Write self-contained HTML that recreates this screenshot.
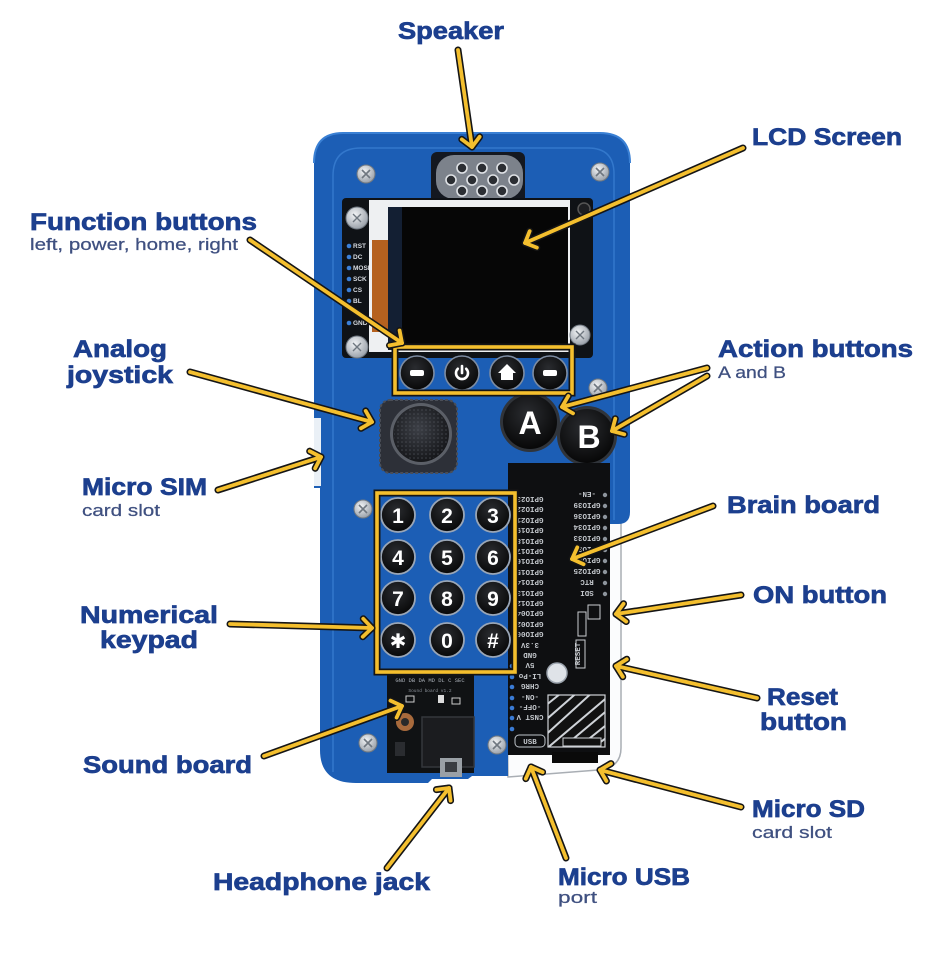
<!DOCTYPE html>
<html><head><meta charset="utf-8"><style>
html,body{margin:0;padding:0;background:#fff;width:931px;height:974px;overflow:hidden}
svg{display:block}
.L{font-family:"Liberation Sans",sans-serif;font-weight:700;font-size:24px;fill:#1c3f8e;stroke:#1c3f8e;stroke-width:0.7px}
.S{font-family:"Liberation Sans",sans-serif;font-weight:400;font-size:17px;fill:#3f5080;stroke:#3f5080;stroke-width:0.25px}
.g{font-family:"Liberation Mono",monospace;font-weight:700;font-size:7.5px;fill:#c3c7cc}
.k{font-family:"Liberation Sans","DejaVu Sans",sans-serif;font-weight:700;font-size:21px;fill:#fff;text-anchor:middle}
</style></head><body>
<svg width="931" height="974" viewBox="0 0 931 974" xmlns="http://www.w3.org/2000/svg">
<defs>
<radialGradient id="sc" cx="40%" cy="35%" r="70%"><stop offset="0" stop-color="#f2f4f6"/><stop offset="1" stop-color="#959ca5"/></radialGradient>
<radialGradient id="kn" cx="45%" cy="40%" r="65%"><stop offset="0" stop-color="#3c3f46"/><stop offset="1" stop-color="#131417"/></radialGradient>
<radialGradient id="bt" cx="45%" cy="35%" r="70%"><stop offset="0" stop-color="#2a2c30"/><stop offset="1" stop-color="#050505"/></radialGradient>
<pattern id="dots" width="4" height="4" patternUnits="userSpaceOnUse"><circle cx="2" cy="2" r="0.8" fill="#5a5e66"/></pattern>
<clipPath id="sdc"><rect x="548" y="695" width="57" height="52"/></clipPath>
<marker id="mk" viewBox="-16 -16 32 32" markerWidth="32" markerHeight="32" refX="0" refY="0" orient="auto" markerUnits="userSpaceOnUse"><path d="M-9,-9 L0,0 L-9,9" fill="none" stroke="#151515" stroke-width="7" stroke-linecap="round" stroke-linejoin="round"/></marker>
<marker id="my" viewBox="-16 -16 32 32" markerWidth="32" markerHeight="32" refX="0" refY="0" orient="auto" markerUnits="userSpaceOnUse"><path d="M-9,-9 L0,0 L-9,9" fill="none" stroke="#f4bf2e" stroke-width="3.8" stroke-linecap="round" stroke-linejoin="round"/></marker>
</defs>
<rect width="931" height="974" fill="#fff"/>

<!-- acrylic -->
<path d="M505,520 H621 V748 Q621,768 598,770 L508,777 Z" fill="#fbfcfd" stroke="#a9aeb4" stroke-width="1.5"/>
<!-- body -->
<path d="M343,133 H600 Q630,133 630,163 V512 Q630,524 618,524 H508 V776 H472 L468,779 H432 L428,783 H356 Q320,783 320,750 V488 H314 V163 Q314,133 343,133 Z" fill="#1c5eb5"/>
<path d="M314,163 Q314,133 343,133 H600 Q630,133 630,163" fill="none" stroke="#3a80d4" stroke-width="2"/>
<rect x="314" y="418" width="7" height="68" fill="#eaf0f6"/>
<path d="M333,772 V176 Q333,148 361,148 H588 Q614,148 614,174 V520" fill="none" stroke="#3d83d6" stroke-width="1.5" opacity=".7"/>

<!-- speaker -->
<rect x="431" y="152" width="94" height="52" rx="6" fill="#141820"/>
<rect x="436" y="155" width="87" height="44" rx="18" fill="#7c828b"/>
<g fill="#2b2e33" stroke="#dfe2e6" stroke-width="1.6">
<circle cx="462" cy="168" r="5"/><circle cx="482" cy="168" r="5"/><circle cx="502" cy="168" r="5"/>
<circle cx="451" cy="180" r="5"/><circle cx="472" cy="180" r="5"/><circle cx="493" cy="180" r="5"/><circle cx="514" cy="180" r="5"/>
<circle cx="462" cy="191" r="5"/><circle cx="482" cy="191" r="5"/><circle cx="502" cy="191" r="5"/>
</g>

<!-- screen module -->
<rect x="342" y="198" width="251" height="160" rx="4" fill="#0f1216"/>
<rect x="369" y="200" width="201" height="152" fill="#eef0f2"/>
<rect x="372" y="240" width="16" height="92" fill="#b5611f"/>
<rect x="388" y="207" width="180" height="143" fill="#060606"/>
<rect x="388" y="207" width="14" height="143" fill="#16253c" opacity=".85"/>
<circle cx="584" cy="209" r="6" fill="#1e1f22" stroke="#555" stroke-width="1.5"/>
<g font-family="Liberation Sans,sans-serif" font-size="6.5" font-weight="700" fill="#d8dce2">
<text x="353" y="248">RST</text><text x="353" y="259">DC</text><text x="353" y="270">MOSI</text><text x="353" y="281">SCK</text><text x="353" y="292">CS</text><text x="353" y="303">BL</text><text x="353" y="325">GND</text>
</g>
<g fill="#3b7fd6"><circle cx="349" cy="246" r="2.3"/><circle cx="349" cy="257" r="2.3"/><circle cx="349" cy="268" r="2.3"/><circle cx="349" cy="279" r="2.3"/><circle cx="349" cy="290" r="2.3"/><circle cx="349" cy="301" r="2.3"/><circle cx="349" cy="323" r="2.3"/></g>

<!-- screws -->
<g stroke="#6f7780" stroke-width="1">
<g transform="translate(366,174)"><circle r="9" fill="url(#sc)"/><path d="M-4,-4L4,4M4,-4L-4,4" stroke-width="1.6"/></g>
<g transform="translate(600,172)"><circle r="9" fill="url(#sc)"/><path d="M-4,-4L4,4M4,-4L-4,4" stroke-width="1.6"/></g>
<g transform="translate(357,218)"><circle r="11" fill="url(#sc)"/><path d="M-4,-4L4,4M4,-4L-4,4" stroke-width="1.4"/></g>
<g transform="translate(357,347)"><circle r="11" fill="url(#sc)"/><path d="M-4,-4L4,4M4,-4L-4,4" stroke-width="1.4"/></g>
<g transform="translate(580,335)"><circle r="10" fill="url(#sc)"/><path d="M-4,-4L4,4M4,-4L-4,4" stroke-width="1.4"/></g>
<g transform="translate(598,388)"><circle r="9" fill="url(#sc)"/><path d="M-4,-4L4,4M4,-4L-4,4" stroke-width="1.6"/></g>
<g transform="translate(363,509)"><circle r="9" fill="url(#sc)"/><path d="M-4,-4L4,4M4,-4L-4,4" stroke-width="1.6"/></g>
<g transform="translate(368,743)"><circle r="9" fill="url(#sc)"/><path d="M-4,-4L4,4M4,-4L-4,4" stroke-width="1.6"/></g>
<g transform="translate(497,745)"><circle r="9" fill="url(#sc)"/><path d="M-4,-4L4,4M4,-4L-4,4" stroke-width="1.6"/></g>
</g>

<!-- function buttons -->
<g stroke="#7d8ca2" stroke-width="1.6" fill="url(#bt)">
<circle cx="417" cy="373" r="17"/><circle cx="462" cy="373" r="17"/><circle cx="507" cy="373" r="17"/><circle cx="550" cy="373" r="17"/>
</g>
<rect x="410" y="370" width="14" height="6" rx="2" fill="#fff"/>
<rect x="543" y="370" width="14" height="6" rx="2" fill="#fff"/>
<path d="M457.8,368.8 A6,6 0 1,0 466.2,368.8" fill="none" stroke="#fff" stroke-width="2.6" stroke-linecap="round"/>
<path d="M462,366 V373" stroke="#fff" stroke-width="2.6" stroke-linecap="round"/>
<path d="M507,364 L516,373 H513 V380 H501 V373 H498 Z" fill="#fff"/>

<!-- joystick -->
<rect x="380" y="400" width="77" height="73" rx="10" fill="#2d3038" stroke="#4a4e57" stroke-width="2" stroke-dasharray="3 2"/>
<circle cx="421" cy="434" r="31" fill="#5b5f67"/>
<circle cx="421" cy="434" r="28" fill="url(#kn)"/>
<circle cx="421" cy="434" r="27" fill="url(#dots)" opacity=".6"/>

<!-- A B -->
<circle cx="530" cy="422" r="30" fill="#30343a"/>
<circle cx="530" cy="422" r="27" fill="url(#bt)"/>
<text x="530" y="434" text-anchor="middle" font-family="Liberation Sans,sans-serif" font-weight="700" font-size="32" fill="#fff">A</text>
<circle cx="587" cy="436" r="30" fill="#30343a"/>
<circle cx="587" cy="436" r="27" fill="url(#bt)"/>
<text x="589" y="448" text-anchor="middle" font-family="Liberation Sans,sans-serif" font-weight="700" font-size="32" fill="#fff">B</text>

<!-- brain board -->
<rect x="508" y="463" width="102" height="292" fill="#0e0f11"/>
<g class="g" text-anchor="middle">
<text x="530" y="503" transform="rotate(180 530 500)">GPIO23</text>
<text x="530" y="513" transform="rotate(180 530 510)">GPIO22</text>
<text x="530" y="524" transform="rotate(180 530 521)">GPIO21</text>
<text x="530" y="534" transform="rotate(180 530 531)">GPIO19</text>
<text x="530" y="545" transform="rotate(180 530 542)">GPIO18</text>
<text x="530" y="555" transform="rotate(180 530 552)">GPIO17</text>
<text x="530" y="565" transform="rotate(180 530 562)">GPIO16</text>
<text x="530" y="576" transform="rotate(180 530 573)">GPIO15</text>
<text x="530" y="586" transform="rotate(180 530 583)">GPIO14</text>
<text x="530" y="597" transform="rotate(180 530 594)">GPIO13</text>
<text x="530" y="607" transform="rotate(180 530 604)">GPIO12</text>
<text x="530" y="617" transform="rotate(180 530 614)">GPIO04</text>
<text x="530" y="628" transform="rotate(180 530 625)">GPIO02</text>
<text x="530" y="638" transform="rotate(180 530 635)">GPIO00</text>
<text x="530" y="649" transform="rotate(180 530 646)">3.3V</text>
<text x="530" y="659" transform="rotate(180 530 656)">GND</text>
<text x="530" y="669" transform="rotate(180 530 666)">5V</text>
<text x="530" y="680" transform="rotate(180 530 677)">LI-Po</text>
<text x="530" y="690" transform="rotate(180 530 687)">CHRG</text>
<text x="530" y="701" transform="rotate(180 530 698)">-ON-</text>
<text x="530" y="711" transform="rotate(180 530 708)">-OFF-</text>
<text x="530" y="721" transform="rotate(180 530 718)">CNST V</text>
<text x="587" y="498" transform="rotate(180 587 495)">-EN-</text>
<text x="587" y="509" transform="rotate(180 587 506)">GPIO39</text>
<text x="587" y="520" transform="rotate(180 587 517)">GPIO36</text>
<text x="587" y="531" transform="rotate(180 587 528)">GPIO34</text>
<text x="587" y="542" transform="rotate(180 587 539)">GPIO33</text>
<text x="587" y="553" transform="rotate(180 587 550)">GPIO32</text>
<text x="587" y="564" transform="rotate(180 587 561)">GPIO26</text>
<text x="587" y="575" transform="rotate(180 587 572)">GPIO25</text>
<text x="587" y="586" transform="rotate(180 587 583)">RTC</text>
<text x="587" y="597" transform="rotate(180 587 594)">SDI</text>
</g>
<g fill="#8d949c"><circle cx="605" cy="495" r="2.2"/><circle cx="605" cy="506" r="2.2"/><circle cx="605" cy="517" r="2.2"/><circle cx="605" cy="528" r="2.2"/><circle cx="605" cy="539" r="2.2"/><circle cx="605" cy="550" r="2.2"/><circle cx="605" cy="561" r="2.2"/><circle cx="605" cy="572" r="2.2"/><circle cx="605" cy="583" r="2.2"/><circle cx="605" cy="594" r="2.2"/></g>
<g fill="#3a7bd5"><circle cx="512" cy="666" r="2.3"/><circle cx="512" cy="677" r="2.3"/><circle cx="512" cy="687" r="2.3"/><circle cx="512" cy="698" r="2.3"/><circle cx="512" cy="708" r="2.3"/><circle cx="512" cy="718" r="2.3"/><circle cx="512" cy="729" r="2.3"/></g>
<rect x="588" y="605" width="12" height="14" fill="none" stroke="#c9ccd1" stroke-width="1"/>
<rect x="578" y="612" width="8" height="24" fill="none" stroke="#c9ccd1" stroke-width="1"/>
<rect x="576" y="640" width="9" height="28" fill="none" stroke="#c9ccd1" stroke-width="1"/>
<text x="580" y="654" class="g" font-size="6" text-anchor="middle" transform="rotate(-90 580 654)">RESET</text>
<circle cx="557" cy="673" r="10" fill="#dfe3e8" stroke="#9aa2ac" stroke-width="1.5"/>
<rect x="548" y="695" width="57" height="52" fill="#111" stroke="#cfd3d8" stroke-width="1.2"/>
<g clip-path="url(#sdc)" stroke="#cfd3d8" stroke-width="2">
<path d="M540,710 L565,690 M540,725 L580,690 M540,740 L595,690 M545,750 L610,695 M560,750 L610,708 M575,750 L610,722 M590,750 L610,735"/>
</g>
<rect x="563" y="738" width="38" height="8" fill="#111" stroke="#cfd3d8" stroke-width="1"/>
<rect x="515" y="735" width="30" height="12" rx="4" fill="none" stroke="#bfc4ca" stroke-width="1"/>
<text x="530" y="744" class="g" font-size="6" text-anchor="middle">USB</text>
<rect x="552" y="752" width="46" height="11" fill="#0a0a0a"/>

<!-- sound board -->
<rect x="387" y="672" width="87" height="101" fill="#101214"/>
<text x="430" y="682" font-family="Liberation Mono,monospace" font-size="5.5" fill="#aab0b8" text-anchor="middle">GND DB DA MD DL C SEC</text>
<text x="430" y="692" font-family="Liberation Mono,monospace" font-size="4.5" fill="#8a9098" text-anchor="middle">Sound board v1.2</text>
<rect x="406" y="696" width="8" height="6" fill="none" stroke="#ccc" stroke-width="1"/>
<rect x="438" y="695" width="6" height="8" fill="#ddd"/>
<rect x="452" y="698" width="8" height="6" fill="none" stroke="#ccc" stroke-width="1"/>
<circle cx="405" cy="722" r="9" fill="#a86a3c"/><circle cx="405" cy="722" r="4" fill="#2a2a2a"/>
<rect x="395" y="742" width="10" height="14" fill="#2a2c30"/>
<rect x="422" y="717" width="52" height="50" fill="#1b1c1f" stroke="#34373c" stroke-width="1.5"/>
<rect x="440" y="758" width="22" height="19" fill="#9aa0a6"/>
<rect x="445" y="762" width="12" height="10" fill="#3a3d42"/>

<!-- boxes -->
<g fill="none">
<rect x="395" y="347" width="177" height="46" stroke="#151515" stroke-width="7"/>
<rect x="395" y="347" width="177" height="46" stroke="#f4bf2e" stroke-width="3.6"/>
</g>

<!-- keypad -->
<g stroke="#9aa6b6" stroke-width="1.8" fill="url(#bt)">
<circle cx="398" cy="515" r="17"/><circle cx="447" cy="515" r="17"/><circle cx="493" cy="515" r="17"/>
<circle cx="398" cy="557" r="17"/><circle cx="447" cy="557" r="17"/><circle cx="493" cy="557" r="17"/>
<circle cx="398" cy="598" r="17"/><circle cx="447" cy="598" r="17"/><circle cx="493" cy="598" r="17"/>
<circle cx="398" cy="640" r="17"/><circle cx="447" cy="640" r="17"/><circle cx="493" cy="640" r="17"/>
</g>
<g class="k">
<text x="398" y="523">1</text><text x="447" y="523">2</text><text x="493" y="523">3</text>
<text x="398" y="565">4</text><text x="447" y="565">5</text><text x="493" y="565">6</text>
<text x="398" y="606">7</text><text x="447" y="606">8</text><text x="493" y="606">9</text>
<text x="398" y="648" font-family="DejaVu Sans,sans-serif" font-size="20">✱</text><text x="447" y="648">0</text><text x="493" y="648">#</text>
</g>
<g fill="none">
<rect x="377" y="493" width="138" height="179" stroke="#151515" stroke-width="7"/>
<rect x="377" y="493" width="138" height="179" stroke="#f4bf2e" stroke-width="3.6"/>
</g>

<!-- arrows -->
<g fill="none" stroke="#151515" stroke-width="7" stroke-linecap="round" marker-end="url(#mk)">
<path d="M458,50 L472,147"/>
<path d="M743,148 L525,243"/>
<path d="M250,240 L402,343"/>
<path d="M190,372 L372,422"/>
<path d="M218,490 L321,457"/>
<path d="M230,624 L372,628"/>
<path d="M264,756 L402,706"/>
<path d="M387,868 L449,788"/>
<path d="M566,858 L531,767"/>
<path d="M741,807 L600,770"/>
<path d="M757,698 L616,666"/>
<path d="M741,595 L616,614"/>
<path d="M713,506 L572,559"/>
<path d="M707,368 L562,407"/>
<path d="M707,376 L612,431"/>
</g>
<g fill="none" stroke="#f4bf2e" stroke-width="3.8" stroke-linecap="round" marker-end="url(#my)">
<path d="M458,50 L472,147"/>
<path d="M743,148 L525,243"/>
<path d="M250,240 L402,343"/>
<path d="M190,372 L372,422"/>
<path d="M218,490 L321,457"/>
<path d="M230,624 L372,628"/>
<path d="M264,756 L402,706"/>
<path d="M387,868 L449,788"/>
<path d="M566,858 L531,767"/>
<path d="M741,807 L600,770"/>
<path d="M757,698 L616,666"/>
<path d="M741,595 L616,614"/>
<path d="M713,506 L572,559"/>
<path d="M707,368 L562,407"/>
<path d="M707,376 L612,431"/>
</g>

<!-- labels -->
<text class="L" x="398" y="39" textLength="106" lengthAdjust="spacingAndGlyphs">Speaker</text>
<text class="L" x="752" y="145" textLength="150" lengthAdjust="spacingAndGlyphs">LCD Screen</text>
<text class="L" x="30" y="230" textLength="227" lengthAdjust="spacingAndGlyphs">Function buttons</text>
<text class="S" x="30" y="250" textLength="208" lengthAdjust="spacingAndGlyphs">left, power, home, right</text>
<text class="L" x="73" y="357" textLength="94" lengthAdjust="spacingAndGlyphs">Analog</text>
<text class="L" x="67" y="383" textLength="106" lengthAdjust="spacingAndGlyphs">joystick</text>
<text class="L" x="718" y="357" textLength="195" lengthAdjust="spacingAndGlyphs">Action buttons</text>
<text class="S" x="718" y="378" textLength="68" lengthAdjust="spacingAndGlyphs">A and B</text>
<text class="L" x="727" y="513" textLength="153" lengthAdjust="spacingAndGlyphs">Brain board</text>
<text class="L" x="82" y="495" textLength="125" lengthAdjust="spacingAndGlyphs">Micro SIM</text>
<text class="S" x="82" y="516" textLength="78" lengthAdjust="spacingAndGlyphs">card slot</text>
<text class="L" x="753" y="603" textLength="134" lengthAdjust="spacingAndGlyphs">ON button</text>
<text class="L" x="80" y="623" textLength="138" lengthAdjust="spacingAndGlyphs">Numerical</text>
<text class="L" x="100" y="648" textLength="98" lengthAdjust="spacingAndGlyphs">keypad</text>
<text class="L" x="767" y="705" textLength="71" lengthAdjust="spacingAndGlyphs">Reset</text>
<text class="L" x="760" y="730" textLength="87" lengthAdjust="spacingAndGlyphs">button</text>
<text class="L" x="83" y="773" textLength="169" lengthAdjust="spacingAndGlyphs">Sound board</text>
<text class="L" x="752" y="817" textLength="113" lengthAdjust="spacingAndGlyphs">Micro SD</text>
<text class="S" x="752" y="838" textLength="80" lengthAdjust="spacingAndGlyphs">card slot</text>
<text class="L" x="213" y="890" textLength="217" lengthAdjust="spacingAndGlyphs">Headphone jack</text>
<text class="L" x="558" y="885" textLength="132" lengthAdjust="spacingAndGlyphs">Micro USB</text>
<text class="S" x="558" y="903" textLength="39" lengthAdjust="spacingAndGlyphs">port</text>
</svg>
</body></html>
